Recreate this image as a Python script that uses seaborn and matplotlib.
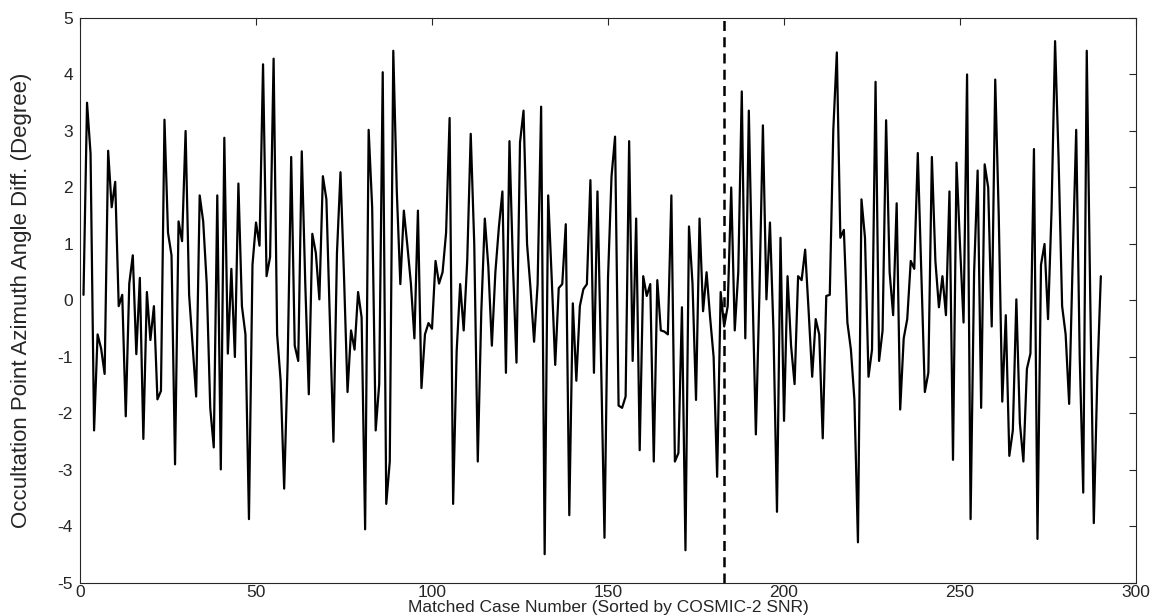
import numpy as np
import pandas as pd
import matplotlib
matplotlib.use("Agg")
import matplotlib.pyplot as plt
import seaborn as sns

azimuth_diff = [
    0.1, 3.5, 2.6, -2.3, -0.6, -0.85, -1.3, 2.65, 1.65, 2.1,
    -0.1, 0.1, -2.05, 0.3, 0.8, -0.95, 0.4, -2.45, 0.15, -0.7,
    -0.1, -1.75, -1.6, 3.2, 1.2, 0.8, -2.9, 1.4, 1.05, 3.0,
    0.1, -0.8, -1.7, 1.86, 1.4, 0.3, -1.9, -2.6, 1.86, -2.99,
    2.88, -0.94, 0.56, -1.0, 2.07, -0.1, -0.6, -3.87, 0.63, 1.38,
    0.97, 4.18, 0.43, 0.77, 4.28, -0.6, -1.42, -3.33, -1.07, 2.54,
    -0.8, -1.07, 2.64, 0.29, -1.66, 1.18, 0.84, 0.02, 2.2, 1.79,
    -0.39, -2.5, 0.84, 2.27, 0.43, -1.62, -0.53, -0.87, 0.15, -0.3,
    -4.05, 3.02, 1.65, -2.3, -1.48, 4.04, -3.6, -2.85, 4.42, 1.93,
    0.29, 1.59, 0.97, 0.3, -0.67, 1.59, -1.55, -0.6, -0.4, -0.5,
    0.7, 0.3, 0.5, 1.2, 3.23, -3.6, -0.9, 0.29, -0.53, 0.7,
    2.95, 1.0, -2.85, -0.2, 1.45, 0.6, -0.8, 0.5, 1.3, 1.93,
    -1.28, 2.82, 0.6, -1.1, 2.8, 3.36, 1.0, 0.2, -0.73, 0.29,
    3.43, -4.49, 1.86, 0.4, -1.14, 0.22, 0.29, 1.35, -3.8, -0.05,
    -1.42, -0.1, 0.2, 0.29, 2.13, -1.28, 1.93, -1.0, -4.2, 0.4,
    2.2, 2.9, -1.86, -1.9, -1.7, 2.82, -1.07, 1.45, -2.65, 0.43,
    0.08, 0.29, -2.85, 0.36, -0.53, -0.55, -0.6, 1.86, -2.85, -2.7,
    -0.12, -4.42, 1.31, 0.3, -1.76, 1.45, -0.19, 0.5, -0.3, -1.0,
    -3.12, 0.15, -0.46, -0.1, 2.0, -0.53, 0.5, 3.7, -0.67, 3.36,
    0.3, -2.37, 0.1, 3.1, 0.02, 1.38, -0.53, -3.74, 1.11, -2.13,
    0.43, -0.8, -1.48, 0.43, 0.36, 0.9, -0.2, -1.35, -0.33, -0.6,
    -2.44, 0.08, 0.1, 3.02, 4.39, 1.11, 1.25, -0.39, -0.87, -1.76,
    -4.28, 1.79, 1.11, -1.35, -0.87, 3.87, -1.07, -0.53, 3.19, 0.5,
    -0.26, 1.72, -1.93, -0.67, -0.33, 0.7, 0.56, 2.61, 0.5, -1.62,
    -1.28, 2.54, 0.7, -0.12, 0.43, -0.26, 1.93, -2.82, 2.44, 0.97,
    -0.39, 4.0, -3.87, 0.5, 2.3, -1.9, 2.41, 2.0, -0.46, 3.91,
    1.5, -1.79, -0.26, -2.75, -2.3, 0.02, -2.17, -2.85, -1.21, -0.94,
    2.68, -4.22, 0.63, 1.0, -0.33, 1.6, 4.59, 2.5, -0.1, -0.6,
    -1.83, 0.7, 3.02, -1.0, -3.4, 4.42, 0.0, -3.94, -1.35, 0.43,
]
case_number = list(range(1, len(azimuth_diff) + 1))
split_case = 183
x_ticks = [0, 50, 100, 150, 200, 250, 300]
y_ticks = [-5, -4, -3, -2, -1, 0, 1, 2, 3, 4, 5]
x_label = "Matched Case Number (Sorted by COSMIC-2 SNR)"
y_label = "Occultation Point Azimuth Angle Diff. (Degree)"

sns.set_style("white")
plt.rcParams["font.family"] = ["Liberation Sans", "DejaVu Sans"]
plt.rcParams["axes.unicode_minus"] = False

df = pd.DataFrame({"case": case_number, "diff": azimuth_diff})

fig = plt.figure(figsize=(11.61, 6.16), dpi=100)
ax = fig.add_axes([0.0689, 0.0536, 0.9096, 0.9172])

sns.lineplot(data=df, x="case", y="diff", ax=ax, color="black", linewidth=1.6)
ax.axvline(split_case, color="black", linestyle=(0, (4, 2.5)), linewidth=1.8)

ax.set_xlim(0, 300)
ax.set_ylim(-5, 5)
ax.set_xticks(x_ticks)
ax.set_yticks(y_ticks)
ax.tick_params(direction="in", top=True, right=True, length=5, width=0.8,
               labelsize=12.5, colors="#262626")
ax.tick_params(axis="x", pad=1.5)
ax.tick_params(axis="y", pad=5)
for s in ax.spines.values():
    s.set_color("#262626")
    s.set_linewidth(0.8)
ax.set_xlabel(x_label, fontsize=12.5, color="#262626", labelpad=0)
ax.set_ylabel(y_label, fontsize=16, color="#262626")
ax.yaxis.set_label_coords(-0.045, 0.5)

fig.savefig("out.png", dpi=100)
